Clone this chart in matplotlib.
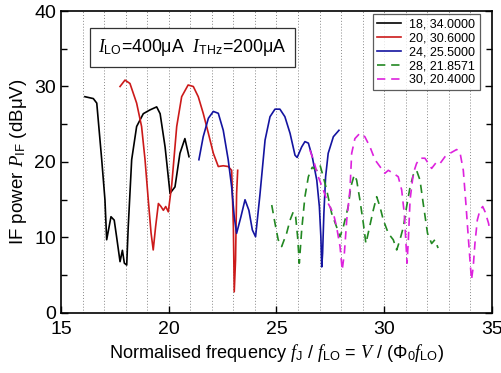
import numpy as np
import matplotlib
matplotlib.use("Agg")
import matplotlib.pyplot as plt
from matplotlib.ticker import MultipleLocator

plt.rcParams["font.family"] = ["Liberation Sans", "DejaVu Sans"]
plt.rcParams["mathtext.fontset"] = "custom"
plt.rcParams["mathtext.rm"] = "Liberation Sans"
plt.rcParams["mathtext.it"] = "Liberation Serif:italic"
plt.rcParams["mathtext.bf"] = "Liberation Sans:bold"

# ============================================================
# Datos (frecuencia normalizada, potencia IF)
# ============================================================

x18 = [16.11, 16.5, 16.66, 16.89, 17.04, 17.12, 17.32, 17.47, 17.58, 17.74, 17.85,
       17.94, 18.05, 18.12, 18.28, 18.51, 18.82, 19.13, 19.44, 19.6, 19.83, 20.06,
       20.29, 20.52, 20.75, 20.94]
y18 = [28.65, 28.4, 27.8, 20.3, 15.0, 9.7, 12.75, 12.3, 10.1, 6.8, 8.3,
       6.6, 6.35, 11.4, 20.3, 24.7, 26.4, 26.9, 27.3, 26.4, 22.0, 15.85,
       16.7, 21.15, 23.1, 20.7]

x20 = [17.74, 17.97, 18.2, 18.51, 18.74, 18.9, 19.05, 19.18, 19.28, 19.39, 19.52,
       19.64, 19.75, 19.86, 19.98, 20.14, 20.37, 20.6, 20.9, 21.14, 21.37, 21.6,
       21.84, 22.07, 22.3, 22.53, 22.76, 22.92, 23.0, 23.04, 23.1, 23.15, 23.2]
y20 = [30.0, 30.85, 30.4, 27.8, 24.7, 20.3, 15.0, 10.6, 8.35, 11.4, 14.5,
       14.1, 13.6, 14.1, 13.4, 17.0, 24.7, 28.65, 30.2, 30.0, 28.65, 26.45,
       23.8, 21.15, 19.4, 19.5, 19.4, 18.9, 11.4, 2.8, 7.0, 15.85, 18.9]

x24 = [21.4, 21.6, 21.84, 22.07, 22.3, 22.53, 22.76, 22.92, 23.04, 23.15, 23.35,
       23.54, 23.72, 23.88, 24.03, 24.23, 24.47, 24.7, 24.93, 25.16, 25.39, 25.63,
       25.86, 25.96, 26.17, 26.32, 26.48, 26.66, 26.87, 26.99, 27.06, 27.1, 27.14,
       27.2, 27.28, 27.4, 27.64, 27.9]
y24 = [20.3, 23.35, 25.8, 26.7, 26.45, 24.2, 20.3, 16.7, 12.75, 10.55, 12.75,
       15.0, 13.6, 11.0, 10.1, 15.6, 22.9, 26.0, 27.0, 27.0, 26.0, 23.8,
       20.9, 20.6, 22.0, 22.7, 22.5, 20.7, 17.6, 14.1, 10.1, 6.1, 7.9,
       13.2, 18.05, 21.15, 23.35, 24.2]

x28 = [24.78, 24.93, 25.08, 25.24, 25.47, 25.63, 25.78, 25.89, 25.98, 26.06, 26.17,
       26.32, 26.48, 26.66, 26.87, 27.02, 27.17, 27.33, 27.56, 27.79, 27.95, 28.1,
       28.33, 28.45, 28.61, 28.72, 28.87, 29.03, 29.15, 29.29, 29.49, 29.65, 29.8,
       29.96, 30.19, 30.42, 30.58, 30.73, 30.89, 31.04, 31.2, 31.35, 31.5, 31.66,
       31.81, 32.01, 32.2, 32.35, 32.5]
y28 = [14.3, 11.9, 9.7, 8.8, 10.55, 12.3, 13.4, 12.75, 10.1, 6.6, 11.0,
       15.4, 18.05, 19.3, 18.9, 19.6, 18.05, 16.3, 13.2, 11.4, 10.1, 11.4,
       14.1, 16.7, 18.3, 17.6, 15.0, 11.9, 9.2, 11.0, 13.6, 15.4, 14.1,
       12.3, 10.55, 9.7, 8.35, 9.7, 11.4, 14.1, 16.7, 18.3, 18.9, 17.6,
       14.5, 10.55, 9.2, 9.7, 8.6]

x30 = [26.55, 26.71, 26.94, 27.17, 27.4, 27.64, 27.79, 27.95, 28.05, 28.15, 28.26,
       28.41, 28.49, 28.64, 28.87, 29.1, 29.34, 29.57, 29.8, 30.03, 30.19, 30.42,
       30.65, 30.81, 30.93, 31.0, 31.06, 31.12, 31.2, 31.35, 31.5, 31.66, 31.89,
       32.2, 32.43, 32.59, 32.82, 33.05, 33.36, 33.51, 33.67, 33.79, 33.9, 33.98,
       34.05, 34.13, 34.21, 34.32, 34.44, 34.57, 34.68, 34.84, 34.9]
y30 = [21.6, 20.3, 18.05, 16.3, 14.5, 13.2, 11.4, 8.8, 5.7, 7.9, 12.3,
       16.3, 21.15, 23.1, 23.8, 23.35, 22.0, 20.3, 19.4, 18.5, 18.9, 18.5,
       18.05, 16.3, 13.2, 9.7, 6.6, 9.7, 15.0, 18.5, 19.8, 20.5, 20.5,
       19.15, 20.0, 19.8, 20.7, 21.15, 21.65, 21.35, 18.9, 14.5, 10.1, 7.0,
       4.4, 6.1, 9.2, 12.3, 13.6, 14.1, 13.4, 11.9, 11.0]

etiquetas = ["18, 34.0000", "20, 30.6000", "24, 25.5000", "28, 21.8571", "30, 20.4000"]
colores = ["#000000", "#cc1a1a", "#1414a0", "#228822", "#dd22dd"]
estilos = ["-", "-", "-", "--", "--"]

series = [(x18, y18), (x20, y20), (x24, y24), (x28, y28), (x30, y30)]

# ============================================================
# Grafico
# ============================================================

fig = plt.figure(figsize=(5.02, 3.73), dpi=100)
ax = fig.add_axes([0.1215, 0.1609, 0.8585, 0.8096])

for xv in range(16, 35):
    ax.axvline(xv, color="#888888", linestyle=(0, (1, 2)), linewidth=0.7, zorder=0)

for (xs, ys), lab, col, est in zip(series, etiquetas, colores, estilos):
    if est == "--":
        ax.plot(xs, ys, color=col, linewidth=1.2, linestyle=(0, (5, 3.5)), label=lab)
    else:
        ax.plot(xs, ys, color=col, linewidth=1.2, linestyle=est, label=lab)

ax.set_xlim(15, 35)
ax.set_ylim(0, 40)
ax.xaxis.set_major_locator(MultipleLocator(5))
ax.yaxis.set_major_locator(MultipleLocator(10))
ax.yaxis.set_minor_locator(MultipleLocator(5))
ax.tick_params(which="both", direction="in", right=True, top=False, labelsize=14, width=1)
ax.tick_params(which="major", length=5)
ax.tick_params(which="minor", length=4)
ax.tick_params(axis="x", pad=6)
for sp in ax.spines.values():
    sp.set_linewidth(1.2)

ax.set_xlabel(r"Normalised frequency $f_{\rm J}$ / $f_{\rm LO}$ = $V$ / ($\Phi_0 f_{\rm LO}$)",
              fontsize=13.1, labelpad=3)
ax.set_ylabel(r"IF power $P_{\rm IF}$ (dBμV)", fontsize=13.5, labelpad=4)

ax.text(0.087, 0.879, r"$I_{\rm LO}$=400μA  $I_{\rm THz}$=200μA", transform=ax.transAxes,
        fontsize=12.8, va="center", ha="left",
        bbox=dict(boxstyle="square,pad=0.5", facecolor="white", edgecolor="#333333", linewidth=0.9))

leg = ax.legend(loc="upper right", bbox_to_anchor=(0.972, 0.990), fontsize=9.0,
                handlelength=1.9, frameon=True, fancybox=False,
                borderpad=0.35, labelspacing=0.15, handletextpad=0.7, borderaxespad=0.0)
leg.get_frame().set_edgecolor("#333333")
leg.get_frame().set_linewidth(0.9)

fig.savefig("out.png", dpi=100)
